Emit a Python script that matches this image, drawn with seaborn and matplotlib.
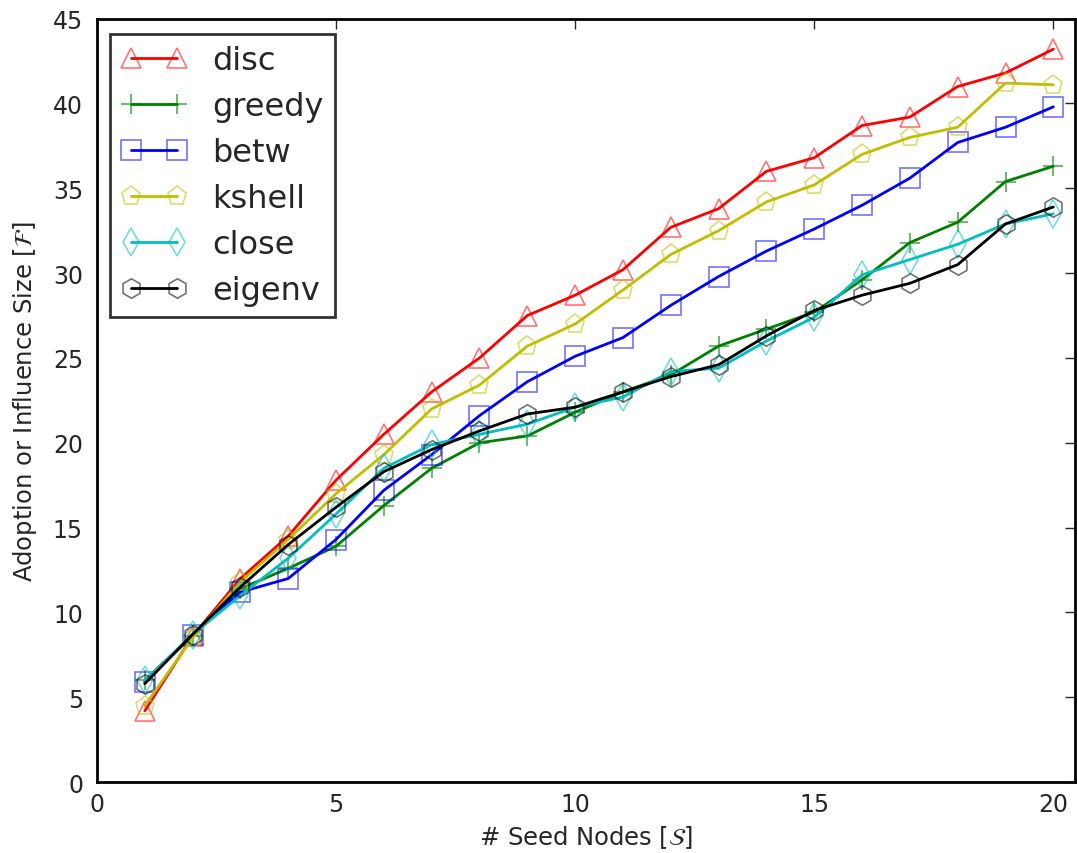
import numpy as np
import pandas as pd
import matplotlib
matplotlib.use("Agg")
import matplotlib.pyplot as plt
import seaborn as sns

seeds = list(range(1, 21))
disc = [4.2, 8.6, 12.0, 14.5, 17.8, 20.5, 23.0, 25.0, 27.5, 28.7,
        30.2, 32.7, 33.8, 36.0, 36.8, 38.7, 39.2, 41.0, 41.8, 43.2]
greedy = [6.0, 8.6, 11.4, 12.6, 13.9, 16.3, 18.5, 20.0, 20.4, 21.8,
          23.0, 24.0, 25.7, 26.7, 27.7, 29.6, 31.8, 33.0, 35.4, 36.3]
betw = [5.9, 8.7, 11.2, 12.0, 14.3, 17.2, 19.3, 21.6, 23.6, 25.1,
        26.2, 28.1, 29.8, 31.3, 32.6, 34.0, 35.6, 37.7, 38.6, 39.8]
kshell = [4.5, 8.5, 11.8, 14.3, 17.0, 19.3, 22.0, 23.4, 25.7, 27.0,
          29.0, 31.1, 32.5, 34.2, 35.2, 37.0, 38.0, 38.6, 41.2, 41.1]
close = [6.0, 8.7, 11.0, 13.2, 15.8, 18.5, 19.9, 20.5, 21.1, 22.1,
         22.7, 24.2, 24.4, 26.0, 27.4, 29.9, 30.8, 31.7, 32.9, 33.5]
eigenv = [5.8, 8.7, 11.5, 14.0, 16.2, 18.3, 19.6, 20.7, 21.7, 22.1,
          23.0, 23.9, 24.6, 26.3, 27.8, 28.7, 29.4, 30.5, 32.9, 33.9]

methods = ["disc", "greedy", "betw", "kshell", "close", "eigenv"]
series = [disc, greedy, betw, kshell, close, eigenv]
colors = ["#ff0000", "#008000", "#0000ff", "#bfbf00", "#00bfbf", "#000000"]
markers = ["^", "+", "s", "p", "d", "h"]

df = pd.DataFrame({
    "seed": np.tile(seeds, len(methods)),
    "value": np.concatenate(series),
    "method": np.repeat(methods, len(seeds)),
})

sns.set_style("white")
plt.rcParams["font.family"] = ["DejaVu Sans"]
plt.rcParams["mathtext.fontset"] = "dejavusans"

fig = plt.figure(figsize=(10.77, 8.54), dpi=100)
ax = fig.add_axes([0.090, 0.083, 0.908, 0.894])

for m, c, mk in zip(methods, colors, markers):
    sub = df[df["method"] == m]
    rgba = matplotlib.colors.to_rgba(c, 0.55)
    sns.lineplot(data=sub, x="seed", y="value", ax=ax, color=c, marker=mk,
                 markersize=14, markerfacecolor="none", markeredgecolor=rgba,
                 markeredgewidth=1.2 if mk != "+" else 1.5, linewidth=2,
                 label=m, legend=False)

ax.set_xlim(0, 20.45)
ax.set_ylim(0, 45)
ax.set_xticks([0, 5, 10, 15, 20])
ax.set_yticks(range(0, 46, 5))
ax.tick_params(direction="in", length=7, width=1, labelsize=17,
               top=True, right=True)
ax.tick_params(axis="x", pad=7)
ax.tick_params(axis="y", pad=10)
for s in ax.spines.values():
    s.set_linewidth(2)
    s.set_color("black")
ax.set_xlabel(r"# Seed Nodes [$\mathcal{S}$]", fontsize=17.5)
ax.set_ylabel(r"Adoption or Influence Size [$\mathcal{F}$]", fontsize=17.5)
ax.xaxis.set_label_coords(0.5, -0.054)
ax.yaxis.set_label_coords(-0.059, 0.5)

leg = ax.legend(loc="upper left", numpoints=2, fontsize=23, frameon=True,
                fancybox=False, handlelength=2.05, borderpad=0.35,
                labelspacing=0.47, handletextpad=0.8, borderaxespad=0,
                bbox_to_anchor=(0.0133, 0.980))
leg.get_frame().set_edgecolor("black")
leg.get_frame().set_linewidth(2)

fig.savefig("out.png", dpi=100)
